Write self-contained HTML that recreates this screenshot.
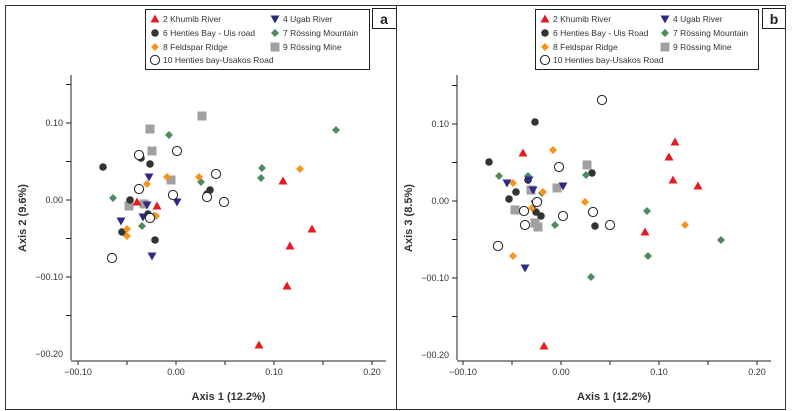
<!DOCTYPE html><html><head><meta charset="utf-8"><style>body{margin:0;background:#fff}svg{display:block;font-family:"Liberation Sans",sans-serif}</style></head><body>
<svg id="s" width="795" height="411" xmlns="http://www.w3.org/2000/svg">
<rect x="5.5" y="5.5" width="391" height="404" fill="none" stroke="#333"/>
<rect x="396.5" y="5.5" width="389" height="404" fill="none" stroke="#333"/>
</svg>
<script>
const s=document.getElementById('s');const NS='http://www.w3.org/2000/svg';
function el(t,a,txt){const e=document.createElementNS(NS,t);for(const k in a)e.setAttribute(k,a[k]);if(txt)e.textContent=txt;s.appendChild(e);return e;}
const C={r:'#e31b23',n:'#2e2a86',k:'#333',g:'#4f8a5e',o:'#f7941d',q:'#a0a0a0',w:'#fff'};
function m(t,x,y){
 if(t=='r')el('polygon',{points:`${x},${y-4.5} ${x+4.5},${y+3.5} ${x-4.5},${y+3.5}`,fill:C.r});
 if(t=='n')el('polygon',{points:`${x-4.5},${y-3.5} ${x+4.5},${y-3.5} ${x},${y+4.5}`,fill:C.n});
 if(t=='k')el('circle',{cx:x,cy:y,r:3.8,fill:C.k});
 if(t=='g')el('polygon',{points:`${x},${y-4} ${x+4},${y} ${x},${y+4} ${x-4},${y}`,fill:C.g});
 if(t=='o')el('polygon',{points:`${x},${y-4} ${x+4},${y} ${x},${y+4} ${x-4},${y}`,fill:C.o});
 if(t=='q')el('rect',{x:x-4.5,y:y-4.5,width:9,height:9,fill:C.q});
 if(t=='w')el('circle',{cx:x,cy:y,r:4.6,fill:'#fff',stroke:'#222','stroke-width':1});
}
function panel(ax,xt,yt,top,bot,right,ylab,lab,lx,lw,lb){
 el('line',{x1:ax,y1:top,x2:ax,y2:bot,stroke:'#222'});
 el('line',{x1:ax,y1:bot+1,x2:right,y2:bot+1,stroke:'#222'});
 const dx=(xt[1]-xt[0])/2;
 for(let i=0;i<7;i++){const x=xt[0]+i*dx;el('line',{x1:x,y1:bot+1,x2:x,y2:bot+5,stroke:'#222'});}
 ['-0.10','0.00','0.10','0.20'].forEach((t,i)=>el('text',{x:xt[0]+i*2*dx,y:bot+15,'font-size':9,'text-anchor':'middle',fill:'#333'},t.replace('-','\u22120')));
 const dy=(yt[1]-yt[0])/2;
 for(let i=-1;i<6;i++){const y=yt[0]+i*dy;el('line',{x1:ax-5,y1:y,x2:ax,y2:y,stroke:'#222'});}
 ['0.10','0.00','-0.10','-0.20'].forEach((t,i)=>el('text',{x:ax-8,y:yt[0]+i*2*dy+3,'font-size':9,'text-anchor':'end',fill:'#333'},t.replace('-','\u22120')));
 el('text',{x:(ax+right)/2,y:400,'font-size':11,'font-weight':'bold','text-anchor':'middle',fill:'#333'},'Axis 1 (12.2%)');
 el('text',{x:0,y:0,'font-size':11,'font-weight':'bold','text-anchor':'middle',fill:'#333',transform:`translate(${ax-45},218) rotate(-90)`},ylab);
 el('rect',{x:lx+.5,y:9.5,width:lw,height:60,fill:'#fff',stroke:'#222'});
 const c2=lx+130;
 const L=[['r',lx+10,19,'2 Khumib River'],['n',c2,19,'4 Ugab River'],['k',lx+10,33,lb],['g',c2,33,'7 Rössing Mountain'],['o',lx+10,47,'8 Feldspar Ridge'],['q',c2,47,'9 Rössing Mine'],['w',lx+10,60,'10 Henties bay-Usakos Road']];
 L.forEach(l=>{m(l[0],l[1],l[2]);el('text',{x:l[1]+8,y:l[2]+3,'font-size':8.5,fill:'#333'},l[3]);});
}
panel(71,[78,176],[123,200],75,360,386,'Axis 2 (9.6%)','a',145,224,'6 Henties Bay - Uis road');
panel(457,[463,561],[124,201],75,360,771,'Axis 3 (8.5%)','b',535,223,'6 Henties Bay - Uis Road');
el('rect',{x:372.5,y:8.5,width:24,height:20,fill:'#fff',stroke:'#222'});
el('text',{x:384,y:24,'font-size':14,'font-weight':'bold','text-anchor':'middle',fill:'#222'},'a');
el('rect',{x:762.5,y:8.5,width:23,height:20,fill:'#fff',stroke:'#222'});
el('text',{x:774,y:24,'font-size':14,'font-weight':'bold','text-anchor':'middle',fill:'#222'},'b');
const A={
r:[[137,202],[157,206],[283,181],[290,246],[312,229],[287,286],[259,345]],
n:[[149,177],[147,205],[143,217],[121,221],[177,202],[152,256]],
k:[[103,167],[141,158],[150,164],[130,200],[148,214],[122,232],[155,240],[210,190],[207,194]],
g:[[113,198],[169,135],[262,168],[261,178],[336,130],[201,182],[142,226],[154,216]],
o:[[167,177],[147,184],[199,177],[300,169],[127,229],[127,236],[156,216]],
q:[[150,129],[152,151],[202,116],[171,180],[129,206],[144,204]],
w:[[139,155],[139,189],[177,151],[216,174],[173,195],[207,197],[224,202],[112,258],[150,218]]};
const B={
r:[[523,153],[544,346],[669,157],[675,142],[673,180],[698,186],[645,232]],
n:[[507,183],[529,180],[533,190],[535,204],[538,203],[563,186],[525,268]],
k:[[535,122],[489,162],[528,180],[516,192],[509,199],[536,212],[541,216],[592,173],[595,226]],
g:[[499,176],[528,176],[542,193],[555,225],[586,175],[647,211],[648,256],[591,277],[721,240]],
o:[[553,150],[513,183],[543,192],[532,208],[585,202],[513,256],[685,225]],
q:[[587,165],[557,188],[531,190],[515,210],[535,223],[538,227]],
w:[[602,100],[559,167],[537,202],[524,211],[593,212],[563,216],[525,225],[610,225],[498,246]]};
['q','k','g','o','n','w','r'].forEach(t=>{A[t].forEach(p=>m(t,p[0],p[1]));B[t].forEach(p=>m(t,p[0],p[1]));});
</script>
</body></html>
